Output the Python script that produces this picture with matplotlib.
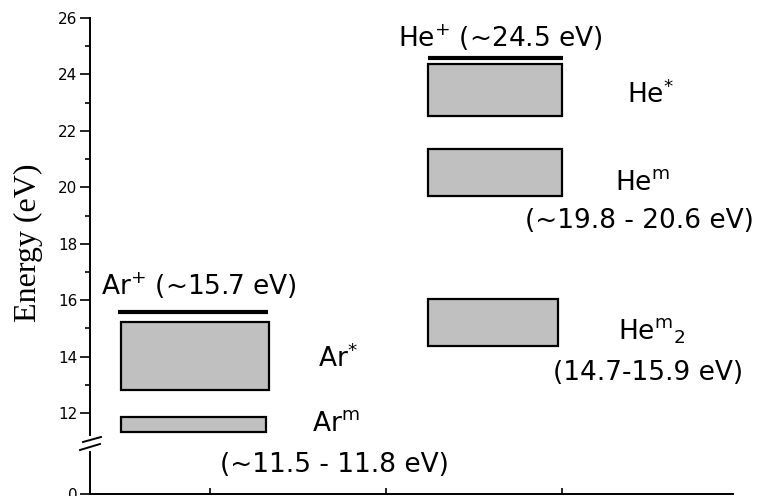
import numpy as np
import matplotlib
matplotlib.use("Agg")
import matplotlib.pyplot as plt
from matplotlib.patches import Rectangle

plt.rcParams['font.family'] = ['DejaVu Sans']
plt.rcParams['mathtext.fontset'] = 'dejavusans'

# excited-state bands (energy ranges in eV) and their x extents
band_names = ["Ar*", "Arm", "He*", "Hem", "He2m"]
band_low = [12.82, 11.34, 22.53, 19.69, 14.37]
band_high = [15.24, 11.87, 24.36, 21.36, 16.04]
band_x0 = [0.494, 0.494, 2.239, 2.239, 2.239]
band_x1 = [1.335, 1.318, 3.0, 3.0, 2.977]

# ionisation levels
ion_energy = [15.59, 24.58]
ion_x0 = [0.477, 2.24]
ion_x1 = [1.33, 3.006]

# labels: (x, y, text)
labels = [
    (0.381, 16.18, r"Ar$^{+}$ (~15.7 eV)"),
    (1.614, 13.64, r"Ar$^{*}$"),
    (1.58, 11.37, r"Ar$^{\mathrm{m}}$"),
    (1.057, 5.04, "(~11.5 - 11.8 eV)"),
    (2.068, 24.98, r"He$^{+}$ (~24.5 eV)"),
    (3.369, 22.99, r"He$^{*}$"),
    (3.301, 19.9, r"He$^{\mathrm{m}}$"),
    (2.79, 18.56, "(~19.8 - 20.6 eV)"),
    (3.318, 14.59, r"He$^{\mathrm{m}}{}_{\mathrm{2}}$"),
    (2.949, 13.17, "(14.7-15.9 eV)"),
]

major_ticks = [0, 12, 14, 16, 18, 20, 22, 24, 26]
minor_ticks = [13, 15, 17, 19, 21, 23, 25]

# broken axis: 0..brk squeezed into a short strip below the break
brk = 10.79
low = 9.13


def fwd(y):
    y = np.asarray(y, dtype=float)
    return np.where(y >= brk, y, low + y * (brk - low) / brk)


def inv(s):
    s = np.asarray(s, dtype=float)
    return np.where(s >= brk, s, (s - low) * brk / (brk - low))


fig = plt.figure(figsize=(7.6, 4.96), dpi=100)
ax = fig.add_axes([90 / 760, 2 / 496, 643 / 760, 476 / 496])
ax.set_yscale('function', functions=(fwd, inv))
ax.set_ylim(0, 26)
ax.set_xlim(0.318, 3.972)

for x0, x1, lo, hi in zip(band_x0, band_x1, band_low, band_high):
    ax.add_patch(Rectangle((x0, lo), x1 - x0, hi - lo, facecolor='#c0c0c0',
                           edgecolor='black', linewidth=1.6))

for e, x0, x1 in zip(ion_energy, ion_x0, ion_x1):
    ax.plot([x0, x1], [e, e], color='black', linewidth=3, solid_capstyle='butt')

for x, y, t in labels:
    ax.text(x, y, t, fontsize=19, ha='left', va='baseline')

ax.set_yticks(major_ticks)
ax.set_yticks(minor_ticks, minor=True)
ax.set_yticklabels([str(v) for v in major_ticks])
ax.set_xticks([1, 2, 3])
ax.set_xticklabels([])
ax.tick_params(axis='y', which='major', direction='out', length=7, width=1.2, labelsize=11, pad=2)
ax.tick_params(axis='y', which='minor', direction='out', length=3.5, width=1.2)
ax.tick_params(axis='x', which='major', direction='in', length=4, width=1.2)

for side in ['top', 'right']:
    ax.spines[side].set_visible(False)
for side in ['left', 'bottom']:
    ax.spines[side].set_linewidth(1.4)

ax.set_ylabel("Energy (eV)", family='Liberation Serif', fontsize=23)
ax.yaxis.set_label_coords(-0.073, 0.527)


# break marks on the y axis
def px(xp, yp):
    return (xp - 90) / 643, (494 - yp) / 476


gx, gy0 = px(90, 438)
_, gy1 = px(90, 449)
ax.plot([gx, gx], [gy0, gy1], transform=ax.transAxes, color='white',
        linewidth=3, clip_on=False, zorder=5)
for (xa, ya), (xb, yb) in [((83, 442), (101, 437)), ((80, 450), (100, 444))]:
    p0 = px(xa, ya)
    p1 = px(xb, yb)
    ax.plot([p0[0], p1[0]], [p0[1], p1[1]], transform=ax.transAxes,
            color='black', linewidth=1.4, clip_on=False, zorder=6)

fig.savefig('out.png', dpi=100)
